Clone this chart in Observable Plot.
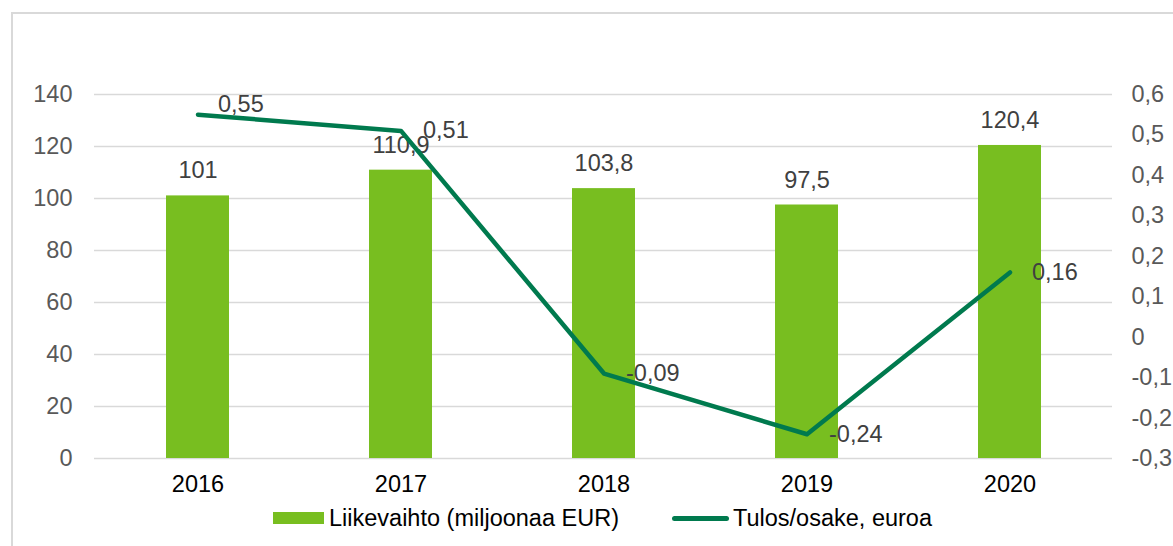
<!DOCTYPE html>
<html>
<head>
<meta charset="utf-8">
<script src="https://cdn.jsdelivr.net/npm/d3@7"></script>
<script src="https://cdn.jsdelivr.net/npm/@observablehq/plot@0.6"></script>
<style>
  html, body { margin: 0; padding: 0; background: #fff; overflow: hidden; }
  body { width: 1173px; height: 546px; position: relative; font-family: "Liberation Sans", Arial, sans-serif; }
  #frame { position: absolute; left: 11px; top: 12px; width: 1200px; height: 600px; border: 2px solid #d9d9d9; box-sizing: border-box; pointer-events: none; }
  #chart { position: absolute; left: 0; top: 0; }
  .item { position: absolute; top: 504px; height: 28px; display: flex; align-items: center; font-size: 23.5px; color: #000; line-height: 28px; }
  .sw-bar { width: 51px; height: 12px; background: #78BE20; margin-right: 5px; }
  .sw-line { width: 57px; height: 5px; border-radius: 3px; background: #007A4E; margin-right: 4px; }
</style>
</head>
<body>
<div id="chart"></div>
<div class="item" style="left:273px"><div class="sw-bar"></div><span>Liikevaihto (miljoonaa EUR)</span></div>
<div class="item" style="left:672px"><div class="sw-line"></div><span>Tulos/osake, euroa</span></div>
<div id="frame"></div>
<script>
const years = ["2016", "2017", "2018", "2019", "2020"];
const revenue = [101, 110.9, 103.8, 97.5, 120.4];
const eps = [0.55, 0.51, -0.09, -0.24, 0.16];
const leftTicks = [0, 20, 40, 60, 80, 100, 120, 140];
const rightTicks = [-0.3, -0.2, -0.1, 0, 0.1, 0.2, 0.3, 0.4, 0.5, 0.6];

const fmt = v => String(v).replace(".", ",");
// secondary axis: map EPS domain [-0.3, 0.6] onto left domain [0, 140]
const y2 = d3.scaleLinear().domain([-0.3, 0.6]).range([0, 140]);

const data = years.map((y, i) => ({year: y, rev: revenue[i], eps: eps[i], eps2: y2(eps[i])}));

const FS = 23.5;
const chart = Plot.plot({
  width: 1173,
  height: 500,
  marginLeft: 94,
  marginRight: 61,
  marginTop: 94,
  marginBottom: 42,
  style: {fontFamily: "'Liberation Sans', Arial, sans-serif", background: "transparent"},
  x: {type: "band", domain: years, padding: 0},
  y: {domain: [0, 140]},
  marks: [
    Plot.gridY(leftTicks, {stroke: "#d9d9d9", strokeOpacity: 1, strokeWidth: 1.5}),
    Plot.axisY(leftTicks, {anchor: "left", tickSize: 0, tickPadding: 22, fontSize: FS, fill: "#595959", label: null}),
    Plot.axisY(rightTicks.map(v => y2(v)), {anchor: "right", tickSize: 0, tickPadding: 19, textAnchor: "start", fontSize: FS, fill: "#595959", label: null,
      tickFormat: v => fmt(+y2.invert(v).toFixed(1))}),
    Plot.axisX({tickSize: 0, tickPadding: 17, fontSize: FS, fill: "#000", label: null}),
    Plot.barY(data, {x: "year", y: "rev", fill: "#78BE20", insetLeft: 70, insetRight: 70}),
    Plot.text(data, {x: "year", y: "rev", text: d => fmt(d.rev), dy: -25, fontSize: FS, fill: "#404040"}),
    Plot.line(data, {x: "year", y: "eps2", stroke: "#007A4E", strokeWidth: 4.5, strokeLinejoin: "round", strokeLinecap: "round"}),
    Plot.text(data.filter((d, i) => i === 0), {x: "year", y: "eps2", text: d => fmt(d.eps), dx: 20, dy: -10, textAnchor: "start", fontSize: FS, fill: "#404040"}),
    Plot.text(data.filter((d, i) => i > 0), {x: "year", y: "eps2", text: d => fmt(d.eps), dx: 22, textAnchor: "start", fontSize: FS, fill: "#404040"})
  ]
});
document.getElementById("chart").appendChild(chart);
</script>
</body>
</html>
